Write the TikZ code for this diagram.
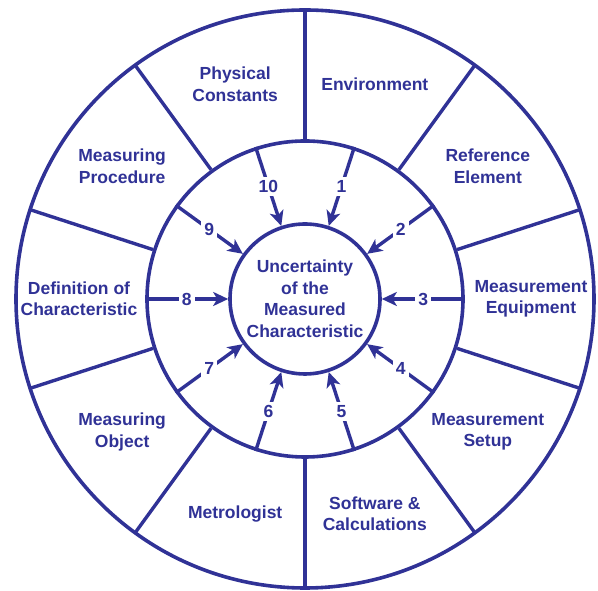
\documentclass[tikz,border=0pt]{standalone}
\usepackage{fontspec}
\setmainfont{Liberation Sans}
\usetikzlibrary{arrows.meta}
\definecolor{ringblue}{RGB}{48,50,150}
\tikzset{>={Stealth[length=15pt,width=14pt,inset=4pt]}}
\tikzset{
  ring/.style={circle, draw=ringblue, line width=3.6pt, inner sep=0pt},
  lbl/.style={text=ringblue, font=\fontsize{17.5}{21.5}\selectfont\bfseries, align=center},
  num/.style={lbl, fill=white, inner sep=3pt},
  spoke/.style={draw=ringblue, line width=3.4pt},
  flow/.style={->, draw=ringblue, line width=3.4pt}
}

\begin{document}
\begin{tikzpicture}[x=1pt,y=1pt]
    \useasboundingbox (0,0) rectangle (598,591);
    \coordinate (c) at (305,292);
    \node[ring, minimum size=578pt, outer sep=0pt] (rim) at (c) {};
    \node[ring, minimum size=316pt] (mid) at (c) {};
    \node[ring, lbl, minimum size=150pt] (core) at (c) {Uncertainty\\of the\\Measured\\Characteristic};
    \foreach \a in {18,54,...,342}
        \draw[spoke] (mid.\a) -- (rim.\a);
    \foreach \a/\t/\n in {72/Environment/env, 36/{Reference\\Element}/refel,
        0/{Measurement\\Equipment}/equip, 324/{Measurement\\Setup}/setup,
        288/{Software \&\\Calculations}/soft, 252/Metrologist/metro,
        216/{Measuring\\Object}/object, 180/{Definition of\\Characteristic}/defin,
        144/{Measuring\\Procedure}/proc, 108/{Physical\\Constants}/phys}
        \node[lbl] (\n) at ([shift={(\a:226)}]c) {\t};
    \foreach \a/\k in {72/1,36/2,0/3,324/4,288/5,252/6,216/7,180/8,144/9,108/10}
        \draw[flow] (mid.\a) -- node[num] (n\k) {\k} (core.\a);
\end{tikzpicture}
\end{document}
